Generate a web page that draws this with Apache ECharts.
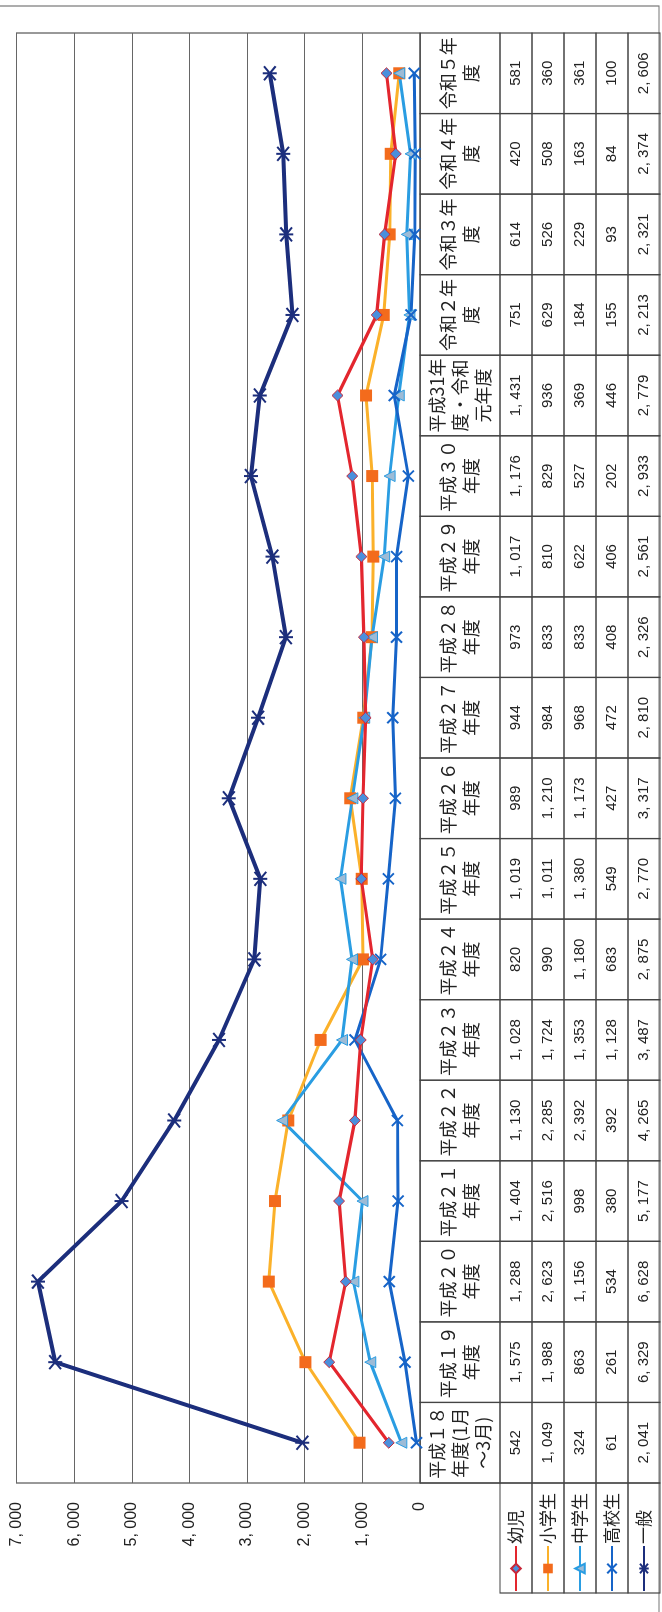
<!DOCTYPE html>
<html>
<head>
<meta charset="utf-8">
<script src="https://cdn.jsdelivr.net/npm/echarts@6/dist/echarts.min.js"></script>
<style>
html,body{margin:0;padding:0;background:#fff;overflow:hidden;width:662px;height:1612px;}
#chart{position:absolute;left:0;top:0;width:1612px;height:662px;transform-origin:0 0;transform:translateY(1612px) rotate(-90deg);}
</style>
</head>
<body>
<div id="chart"></div>
<script>
// ---- data ----
const categories = ['平成１８\n年度(1月\n～3月)', '平成１９\n年度', '平成２０\n年度', '平成２１\n年度', '平成２２\n年度', '平成２３\n年度', '平成２４\n年度', '平成２５\n年度', '平成２６\n年度', '平成２７\n年度', '平成２８\n年度', '平成２９\n年度', '平成３０\n年度', '平成31年\n度・令和\n元年度', '令和２年\n度', '令和３年\n度', '令和４年\n度', '令和５年\n度'];
const seriesNames = ['幼児', '小学生', '中学生', '高校生', '一般'];
const youji   = [542, 1575, 1288, 1404, 1130, 1028, 820, 1019, 989, 944, 973, 1017, 1176, 1431, 751, 614, 420, 581];
const shogaku = [1049, 1988, 2623, 2516, 2285, 1724, 990, 1011, 1210, 984, 833, 810, 829, 936, 629, 526, 508, 360];
const chugaku = [324, 863, 1156, 998, 2392, 1353, 1180, 1380, 1173, 968, 833, 622, 527, 369, 184, 229, 163, 361];
const koko    = [61, 261, 534, 380, 392, 1128, 683, 549, 427, 472, 408, 406, 202, 446, 155, 93, 84, 100];
const ippan   = [2041, 6329, 6628, 5177, 4265, 3487, 2875, 2770, 3317, 2810, 2326, 2561, 2933, 2779, 2213, 2321, 2374, 2606];
const valueMin = 0, valueMax = 7000, valueStep = 1000;

// ---- layout / style (not data) ----
const rowsData = [youji, shogaku, chugaku, koko, ippan];
const TABLE_TOP = 420, HEADER_H = 80, ROW_H = 32;
const LINE_C = '#444';
const CJK = '"Noto Sans CJK JP", sans-serif';
const NUM = '"Liberation Sans", Arial, sans-serif';
function fmt(n) { return n.toLocaleString('en-US').replace(/,/g, ', '); }

const chart = echarts.init(document.getElementById('chart'), null, { renderer: 'canvas', width: 1612, height: 662 });

const xPath = 'path://M0,0L10,10M10,0L0,10';
const starPath = 'path://M0,0L10,10M10,0L0,10M5,-1L5,11';

function renderTable(params, api) {
  const i = api.value(0);
  const c = api.coord([i, 0]);
  const bw = api.size([1, 0])[0];
  const x0 = c[0] - bw / 2;
  const ch = [];
  ch.push({ type: 'rect', shape: { x: x0, y: TABLE_TOP, width: bw, height: HEADER_H }, style: { fill: 'none', stroke: LINE_C, lineWidth: 1.2 } });
  ch.push({ type: 'text', style: { text: categories[i], x: c[0], y: TABLE_TOP + HEADER_H / 2, align: 'center', verticalAlign: 'middle', font: '18px ' + CJK, lineHeight: 23, fill: '#222' } });
  rowsData.forEach(function (arr, k) {
    const y = TABLE_TOP + HEADER_H + k * ROW_H;
    ch.push({ type: 'rect', shape: { x: x0, y: y, width: bw, height: ROW_H }, style: { fill: 'none', stroke: LINE_C, lineWidth: 1.2 } });
    ch.push({ type: 'text', style: { text: fmt(arr[i]), x: c[0], y: y + ROW_H / 2, align: 'center', verticalAlign: 'middle', font: '15px ' + NUM, fill: '#222' } });
  });
  return { type: 'group', children: ch };
}

const legendRects = [];
for (let k = 0; k < 5; k++) {
  legendRects.push({ type: 'rect', shape: { x: 19, y: TABLE_TOP + HEADER_H + k * ROW_H, width: 110, height: ROW_H }, style: { fill: 'none', stroke: LINE_C, lineWidth: 1.2 }, silent: true });
}
const legends = seriesNames.map(function (name, k) {
  return {
    orient: 'horizontal', left: 20, top: TABLE_TOP + HEADER_H + k * ROW_H + ROW_H / 2 - 10, padding: 0,
    itemWidth: 45, itemHeight: 12, data: [name], selectedMode: false,
    textStyle: { fontSize: 17, fontFamily: CJK, color: '#222', lineHeight: 20, padding: [0, 0, 0, -3] }
  };
});

const option = {
  backgroundColor: '#fff',
  animation: false,
  grid: { left: 129, right: 33, top: 16.5, bottom: 242, show: true, borderColor: '#555', borderWidth: 1.2, backgroundColor: 'transparent' },
  xAxis: {
    type: 'category', data: categories, boundaryGap: true,
    axisLine: { show: false }, axisTick: { show: false }, axisLabel: { show: false }, splitLine: { show: false }
  },
  yAxis: {
    type: 'value', min: valueMin, max: valueMax, interval: valueStep,
    axisLine: { show: false }, axisTick: { show: false },
    splitLine: { show: true, lineStyle: { color: '#666', width: 1.2 } },
    axisLabel: { margin: 19, formatter: function (v) { return fmt(v); }, color: '#222', fontSize: 16, fontFamily: NUM }
  },
  legend: legends,
  graphic: [
    { type: 'rect', shape: { x: -5, y: -5, width: 1611, height: 664 }, style: { fill: 'none', stroke: '#777', lineWidth: 1.2 }, silent: true },
    { type: 'line', shape: { x1: 129, y1: TABLE_TOP, x2: 129, y2: TABLE_TOP + HEADER_H }, style: { stroke: LINE_C, lineWidth: 1.2 }, silent: true }
  ].concat(legendRects),
  series: [
    { name: '幼児', type: 'line', data: youji, symbol: 'diamond', symbolSize: 11,
      lineStyle: { color: '#e3262e', width: 3.2 }, itemStyle: { color: '#4a8fdc', borderColor: '#c8283a', borderWidth: 1 }, z: 4 },
    { name: '小学生', type: 'line', data: shogaku, symbol: 'rect', symbolSize: 12,
      lineStyle: { color: '#fbb12a', width: 3 }, itemStyle: { color: '#f36b1c', borderColor: '#f36b1c', borderWidth: 0 }, z: 3 },
    { name: '中学生', type: 'line', data: chugaku, symbol: 'triangle', symbolSize: 11,
      lineStyle: { color: '#2a9de2', width: 3 }, itemStyle: { color: '#9dbbd6', borderColor: '#2a9de2', borderWidth: 1 }, z: 3 },
    { name: '高校生', type: 'line', data: koko, symbol: xPath, symbolSize: 11,
      lineStyle: { color: '#1664c8', width: 3 }, itemStyle: { color: '#1664c8', borderColor: '#1664c8', borderWidth: 2 }, z: 3 },
    { name: '一般', type: 'line', data: ippan, symbol: starPath, symbolSize: 14,
      lineStyle: { color: '#1c2e7c', width: 4 }, itemStyle: { color: '#1c2e7c', borderColor: '#1c2e7c', borderWidth: 2 }, z: 5 },
    { type: 'custom', renderItem: renderTable, clip: false, silent: true, z: 1,
      data: categories.map(function (_, i) { return [i, 0]; }) }
  ]
};
chart.setOption(option);
</script>
</body>
</html>
